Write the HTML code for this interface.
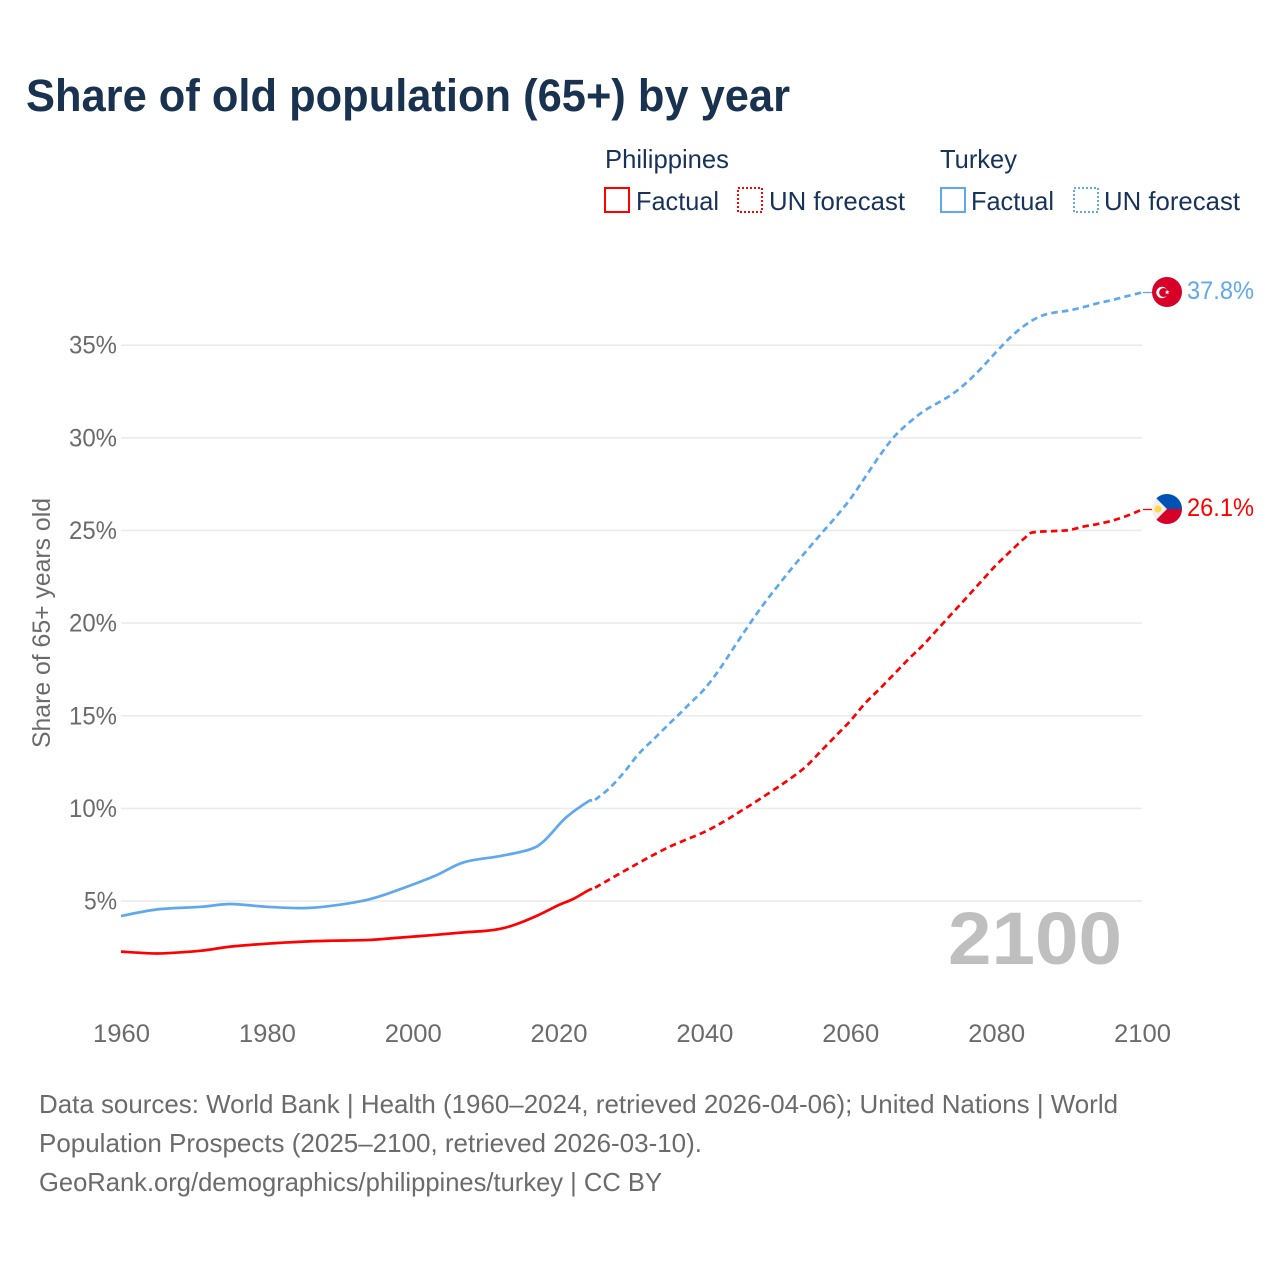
<!DOCTYPE html>
<html lang="en">
<head>
<meta charset="utf-8">
<title>Share of old population (65+) by year</title>
<style>
html,body{margin:0;padding:0;background:#fff;}
svg{display:block;font-family:"Liberation Sans",sans-serif;}
</style>
</head>
<body>
<svg id="chart" xmlns="http://www.w3.org/2000/svg" width="1280" height="1280" viewBox="0 0 1280 1280">
  <rect x="0" y="0" width="1280" height="1280" fill="#ffffff"/>
  <text x="26" y="111" font-size="45" font-weight="700" fill="#18324f" textLength="764" lengthAdjust="spacingAndGlyphs">Share of old population (65+) by year</text>

  <g font-size="26" fill="#18335a">
    <text x="605" y="168" textLength="124" lengthAdjust="spacingAndGlyphs">Philippines</text>
    <text x="940" y="168" textLength="77" lengthAdjust="spacingAndGlyphs">Turkey</text>
    <g>
      <rect x="605" y="188" width="24" height="24" fill="none" stroke="#ff0000" stroke-width="2" shape-rendering="crispEdges"/>
      <text x="636" y="210" textLength="83" lengthAdjust="spacingAndGlyphs">Factual</text>
    </g>
    <g>
      <rect x="738" y="188" width="24" height="24" fill="none" stroke="#ff0000" stroke-width="2" stroke-dasharray="2 2" shape-rendering="crispEdges"/>
      <text x="769" y="210" textLength="136" lengthAdjust="spacingAndGlyphs">UN forecast</text>
    </g>
    <g>
      <rect x="941" y="188" width="24" height="24" fill="none" stroke="#5fa8ee" stroke-width="2" shape-rendering="crispEdges"/>
      <text x="971" y="210" textLength="83" lengthAdjust="spacingAndGlyphs">Factual</text>
    </g>
    <g>
      <rect x="1074" y="188" width="24" height="24" fill="none" stroke="#5fa8ee" stroke-width="2" stroke-dasharray="2 2" shape-rendering="crispEdges"/>
      <text x="1104" y="210" textLength="136" lengthAdjust="spacingAndGlyphs">UN forecast</text>
    </g>
  </g>

  <g id="grid"></g>
  <g id="yticks"></g>
  <g id="xticks"></g>
  <text transform="translate(50,748) rotate(-90)" font-size="25" fill="#6b6b6b" textLength="250" lengthAdjust="spacingAndGlyphs">Share of 65+ years old</text>

  <text x="948" y="964" font-size="74" font-weight="700" fill="#bfbfbf" textLength="174" lengthAdjust="spacingAndGlyphs">2100</text>

  <g id="series"></g>

  <g id="flag-turkey">
    <circle cx="1167" cy="292" r="15" fill="#d80027"/>
    <circle cx="1162" cy="292.5" r="5.7" fill="#ffffff"/>
    <circle cx="1163.6" cy="292.5" r="4.5" fill="#d80027"/>
    <polygon points="1165,291.5 1166.6,291.2 1167,289.6 1167.8,291.2 1169.6,291.4 1168.2,292.5 1168.6,294.2 1167,293.3 1165.6,294.2 1166,292.5" fill="#ffffff"/>
  </g>
  <g id="flag-philippines">
    <circle cx="1167" cy="509" r="15" fill="#f0f0f0"/>
    <path d="M1182 509A15 15 0 0 0 1156.4 498.4L1167 509Z" fill="#0052b4"/>
    <path d="M1182 509A15 15 0 0 1 1156.4 519.6L1167 509Z" fill="#d80027"/>
    <circle cx="1158" cy="509" r="3.6" fill="#ffda44"/>
  </g>

  <text x="1187" y="299" font-size="25" fill="#5fa8ee" textLength="67" lengthAdjust="spacingAndGlyphs">37.8%</text>
  <text x="1187" y="516" font-size="25" fill="#ff0000" textLength="67" lengthAdjust="spacingAndGlyphs">26.1%</text>

  <g font-size="26" fill="#6b6b6b">
    <text x="39" y="1113" textLength="1079" lengthAdjust="spacingAndGlyphs">Data sources: World Bank | Health (1960–2024, retrieved 2026-04-06); United Nations | World</text>
    <text x="39" y="1152" textLength="663" lengthAdjust="spacingAndGlyphs">Population Prospects (2025–2100, retrieved 2026-03-10).</text>
    <text x="39" y="1191" textLength="623" lengthAdjust="spacingAndGlyphs">GeoRank.org/demographics/philippines/turkey | CC BY</text>
  </g>
</svg>
<script>
var yTickValues = [5, 10, 15, 20, 25, 30, 35];
var xTickYears = [1960, 1980, 2000, 2020, 2040, 2060, 2080, 2100];

var factualYearsPhilippines = [1960, 1964, 1966, 1971, 1975, 1980, 1985, 1989, 1994, 1998, 2003, 2007, 2010, 2012, 2014, 2017, 2020, 2022, 2024, 2024.6];
var factualPhilippines = [2.27, 2.18, 2.18, 2.32, 2.54, 2.70, 2.81, 2.86, 2.90, 3.02, 3.17, 3.31, 3.39, 3.50, 3.72, 4.20, 4.78, 5.11, 5.56, 5.66];

var forecastYearsPhilippines = [2025, 2030, 2035, 2040, 2043, 2045, 2047, 2050, 2052, 2054, 2056, 2058, 2060, 2062, 2064, 2066, 2068, 2070, 2072, 2074, 2076, 2078, 2080, 2082, 2084, 2085, 2088, 2090, 2092, 2094, 2096, 2098, 2100];
var forecastPhilippines = [5.72, 6.84, 7.89, 8.73, 9.37, 9.86, 10.35, 11.13, 11.67, 12.29, 13.10, 13.91, 14.72, 15.66, 16.44, 17.25, 18.06, 18.82, 19.68, 20.54, 21.40, 22.27, 23.13, 23.89, 24.62, 24.89, 24.97, 25.02, 25.21, 25.35, 25.54, 25.80, 26.13];

var factualYearsTurkey = [1960, 1965, 1971, 1975, 1980, 1985, 1989, 1994, 1998, 2003, 2007, 2012, 2016, 2018, 2021, 2024, 2024.6];
var factualTurkey = [4.19, 4.55, 4.69, 4.84, 4.69, 4.62, 4.75, 5.09, 5.60, 6.35, 7.09, 7.43, 7.78, 8.24, 9.50, 10.36, 10.42];

var forecastYearsTurkey = [2025, 2027, 2029, 2031, 2033, 2035, 2037, 2038, 2040, 2042, 2044, 2046, 2048, 2050, 2052, 2054, 2056, 2058, 2060, 2062, 2064, 2066, 2068, 2070, 2072, 2074, 2076, 2078, 2080, 2082, 2084, 2086, 2088, 2090, 2092, 2094, 2096, 2098, 2100];
var forecastTurkey = [10.46, 11.10, 11.96, 12.95, 13.72, 14.50, 15.26, 15.66, 16.44, 17.47, 18.66, 19.84, 20.96, 21.98, 22.97, 23.90, 24.82, 25.72, 26.70, 27.85, 29.02, 30.05, 30.80, 31.42, 31.88, 32.36, 33.00, 33.77, 34.63, 35.44, 36.09, 36.55, 36.76, 36.87, 37.06, 37.27, 37.44, 37.65, 37.84];

var SVGNS = 'http://www.w3.org/2000/svg';
function xScale(year) { return 121 + (year - 1960) * (1142 - 121) / 140; }
function yScale(value) { return 993.7 - value * 18.53; }

function smoothPath(years, values) {
  var pts = years.map(function (yr, i) { return [xScale(yr), yScale(values[i])]; });
  var d = 'M' + pts[0][0].toFixed(2) + ' ' + pts[0][1].toFixed(2);
  for (var i = 0; i < pts.length - 1; i++) {
    var p0 = pts[Math.max(i - 1, 0)], p1 = pts[i], p2 = pts[i + 1], p3 = pts[Math.min(i + 2, pts.length - 1)];
    var c1x = p1[0] + (p2[0] - p0[0]) / 6, c1y = p1[1] + (p2[1] - p0[1]) / 6;
    var c2x = p2[0] - (p3[0] - p1[0]) / 6, c2y = p2[1] - (p3[1] - p1[1]) / 6;
    d += 'C' + c1x.toFixed(2) + ' ' + c1y.toFixed(2) + ' ' + c2x.toFixed(2) + ' ' + c2y.toFixed(2) + ' ' + p2[0].toFixed(2) + ' ' + p2[1].toFixed(2);
  }
  return d;
}

var gridGroup = document.getElementById('grid');
var yTickGroup = document.getElementById('yticks');
var xTickGroup = document.getElementById('xticks');
var seriesGroup = document.getElementById('series');

yTickValues.forEach(function (value) {
  var line = document.createElementNS(SVGNS, 'line');
  
  
  line.setAttribute('x1', xScale(1960));
  line.setAttribute('x2', xScale(2100));
  line.setAttribute('y1', yScale(value));
  line.setAttribute('y2', yScale(value));
  line.setAttribute('stroke', '#ebebeb');
  line.setAttribute('stroke-width', '1.6');
  gridGroup.appendChild(line);

  var label = document.createElementNS(SVGNS, 'text');
  
  
  label.setAttribute('x', 117);
  label.setAttribute('y', yScale(value) + 8.5);
  label.setAttribute('text-anchor', 'end');
  label.setAttribute('font-size', '25');
  label.setAttribute('fill', '#6b6b6b');
  label.setAttribute('textLength', value < 10 ? '33' : '48');
  label.setAttribute('lengthAdjust', 'spacingAndGlyphs');
  label.textContent = value + '%';
  yTickGroup.appendChild(label);
});

xTickYears.forEach(function (year) {
  var label = document.createElementNS(SVGNS, 'text');
  
  
  label.setAttribute('x', xScale(year) + 0.5);
  label.setAttribute('y', 1042);
  label.setAttribute('text-anchor', 'middle');
  label.setAttribute('font-size', '25');
  label.setAttribute('fill', '#6b6b6b');
  label.setAttribute('textLength', '57');
  label.setAttribute('lengthAdjust', 'spacingAndGlyphs');
  label.textContent = year;
  xTickGroup.appendChild(label);
});

function drawLine(name, years, values, color, dashed) {
  var path = document.createElementNS(SVGNS, 'path');
  
  
  path.setAttribute('d', smoothPath(years, values));
  path.setAttribute('fill', 'none');
  path.setAttribute('stroke', color);
  path.setAttribute('stroke-width', '2.7');
  path.setAttribute('stroke-linejoin', 'round');
  if (dashed) { path.setAttribute('stroke-dasharray', '6.5 4.2'); }
  seriesGroup.appendChild(path);
}

function drawConnector(name, year, value, color) {
  var line = document.createElementNS(SVGNS, 'line');
  
  
  line.setAttribute('x1', xScale(year) + 1);
  line.setAttribute('x2', xScale(year) + 11);
  line.setAttribute('y1', yScale(value));
  line.setAttribute('y2', yScale(value));
  line.setAttribute('stroke', color);
  line.setAttribute('stroke-width', '1.3');
  seriesGroup.appendChild(line);
}

drawLine('line-philippines-factual', factualYearsPhilippines, factualPhilippines, '#ff0000', false);
drawLine('line-philippines-forecast', forecastYearsPhilippines, forecastPhilippines, '#ff0000', true);
drawLine('line-turkey-factual', factualYearsTurkey, factualTurkey, '#5fa8ee', false);
drawLine('line-turkey-forecast', forecastYearsTurkey, forecastTurkey, '#5fa8ee', true);
drawConnector('connector-philippines', 2100, forecastPhilippines[forecastPhilippines.length - 1], '#ff0000');
drawConnector('connector-turkey', 2100, forecastTurkey[forecastTurkey.length - 1], '#5fa8ee');
</script>
</body>
</html>
